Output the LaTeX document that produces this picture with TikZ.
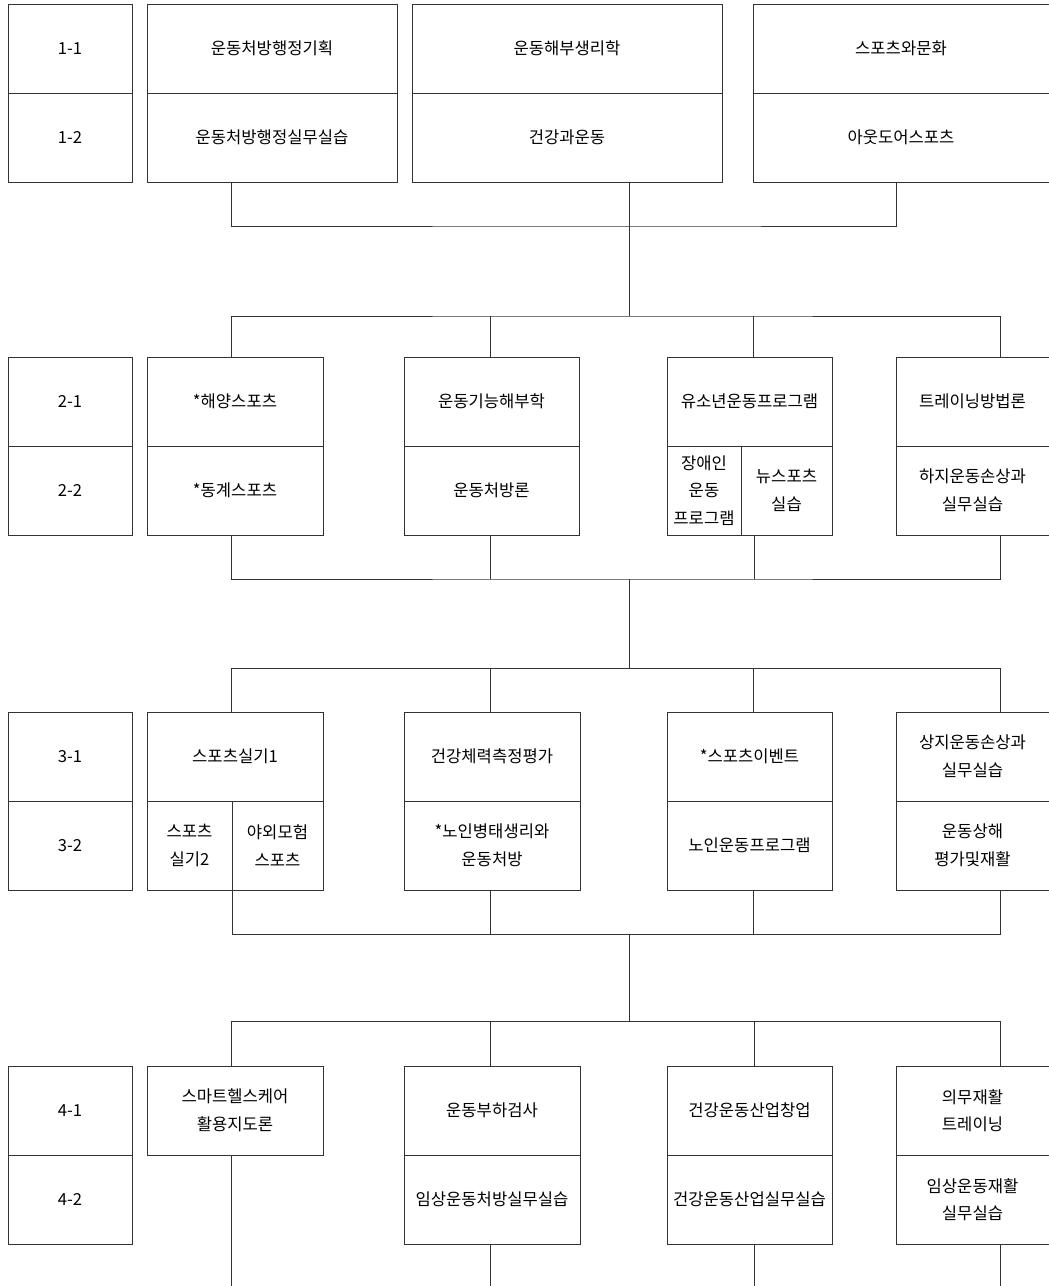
\documentclass[tikz,border=0pt]{standalone}
\usepackage{fontspec}
\newfontfamily\krfont{Noto Sans CJK KR}
\usetikzlibrary{positioning}
\definecolor{chartline}{RGB}{51, 51, 51}
\tikzset{
  course/.style 2 args={
    rectangle,
    draw=chartline,
    line width=1pt,
    inner sep=0pt,
    outer sep=0pt,
    minimum width=#1,
    minimum height=#2,
    align=center,
    font=\krfont\fontsize{16.6}{27.5}\selectfont
  },
  link/.style={
    draw=chartline,
    line width=1pt
  }
}

\begin{document}
\begin{tikzpicture}[x=1pt, y=-1pt]
  \fill[white] (0,0) rectangle (1049,1286);
  \useasboundingbox (0,0) rectangle (1049,1286);
  % year 1
  \node[course={124}{89}] (l1t) at (70,48.5) {1-1};
  \node[course={124}{89}, below=0pt of l1t] (l1b) {1-2};
  \node[course={250}{89}] (a1t) at (272,48.5) {운동처방행정기획};
  \node[course={250}{89}, below=0pt of a1t] (a1b) {운동처방행정실무실습};
  \node[course={310}{89}] (b1t) at (567,48.5) {운동해부생리학};
  \node[course={310}{89}, below=0pt of b1t] (b1b) {건강과운동};
  \node[course={296}{89}] (c1t) at (901,48.5) {스포츠와문화};
  \node[course={296}{89}, below=0pt of c1t] (c1b) {아웃도어스포츠};
  % year 2
  \node[course={124}{89}] (l2t) at (70,401.5) {2-1};
  \node[course={124}{89}, below=0pt of l2t] (l2b) {2-2};
  \node[course={176}{89}] (a2t) at (235,401.5) {*해양스포츠};
  \node[course={176}{89}, below=0pt of a2t] (a2b) {*동계스포츠};
  \node[course={175}{89}] (b2t) at (491.5,401.5) {운동기능해부학};
  \node[course={175}{89}, below=0pt of b2t] (b2b) {운동처방론};
  \node[course={165}{89}] (c2t) at (749.5,401.5) {유소년운동프로그램};
  \node[course={74}{89}, anchor=north west] (c2bl) at (c2t.south west) {장애인\\운동\\프로그램};
  \node[course={91}{89}, right=0pt of c2bl] (c2br) {뉴스포츠\\실습};
  \node[course={153}{89}] (d2t) at (972.5,401.5) {트레이닝방법론};
  \node[course={153}{89}, below=0pt of d2t] (d2b) {하지운동손상과\\실무실습};
  % year 3
  \node[course={124}{89}] (l3t) at (70,756.5) {3-1};
  \node[course={124}{89}, below=0pt of l3t] (l3b) {3-2};
  \node[course={176}{89}] (a3t) at (235,756.5) {스포츠실기1};
  \node[course={85}{89}, anchor=north west] (a3bl) at (a3t.south west) {스포츠\\실기2};
  \node[course={91}{89}, right=0pt of a3bl] (a3br) {야외모험\\스포츠};
  \node[course={176}{89}] (b3t) at (492,756.5) {건강체력측정평가};
  \node[course={176}{89}, below=0pt of b3t] (b3b) {*노인병태생리와\\운동처방};
  \node[course={165}{89}] (c3t) at (749.5,756.5) {*스포츠이벤트};
  \node[course={165}{89}, below=0pt of c3t] (c3b) {노인운동프로그램};
  \node[course={153}{89}] (d3t) at (972.5,756.5) {상지운동손상과\\실무실습};
  \node[course={153}{89}, below=0pt of d3t] (d3b) {운동상해\\평가및재활};
  % year 4
  \node[course={124}{89}] (l4t) at (70,1110.5) {4-1};
  \node[course={124}{89}, below=0pt of l4t] (l4b) {4-2};
  \node[course={176}{89}] (a4t) at (235,1110.5) {스마트헬스케어\\활용지도론};
  \node[course={176}{89}] (b4t) at (492,1110.5) {운동부하검사};
  \node[course={176}{89}, below=0pt of b4t] (b4b) {임상운동처방실무실습};
  \node[course={165}{89}] (c4t) at (749.5,1110.5) {건강운동산업창업};
  \node[course={165}{89}, below=0pt of c4t] (c4b) {건강운동산업실무실습};
  \node[course={153}{89}] (d4t) at (972.5,1110.5) {의무재활\\트레이닝};
  \node[course={153}{89}, below=0pt of d4t] (d4b) {임상운동재활\\실무실습};
  % joints
  \coordinate (m1) at (629,226);
  \coordinate (m2) at (629,316);
  \coordinate (m3) at (629,579);
  \coordinate (m4) at (629,668);
  \coordinate (m5) at (629,934);
  \coordinate (m6) at (629,1021);
  \coordinate (bottom) at (0,1286);
  % year 1 -> year 2
  \draw[link] (a1b.south -| 231,0) |- (m1) -| (c1b.south -| 896,0);
  \draw[link] (b1b.south -| m1) -- (m2);
  \draw[link] (a2t.north -| 231,0) |- (m2) -| (d2t.north -| 1000,0);
  \draw[link] (b2t.north -| 490,0) -- (m2 -| 490,0);
  \draw[link] (c2t.north -| 753,0) -- (m2 -| 753,0);
  % year 2 -> year 3
  \draw[link] (a2b.south -| 231,0) |- (m3) -| (d2b.south -| 1000,0);
  \draw[link] (b2b.south -| 490,0) -- (m3 -| 490,0);
  \draw[link] (c2br.south -| 754,0) -- (m3 -| 754,0);
  \draw[link] (m3) -- (m4);
  \draw[link] (a3t.north -| 231,0) |- (m4) -| (d3t.north -| 1000,0);
  \draw[link] (b3t.north -| 490,0) -- (m4 -| 490,0);
  \draw[link] (c3t.north -| 753,0) -- (m4 -| 753,0);
  % year 3 -> year 4
  \draw[link] (a3br.south -| 232,0) |- (m5) -| (d3b.south -| 1000,0);
  \draw[link] (b3b.south -| 490,0) -- (m5 -| 490,0);
  \draw[link] (c3b.south -| 753,0) -- (m5 -| 753,0);
  \draw[link] (m5) -- (m6);
  \draw[link] (a4t.north -| 231,0) |- (m6) -| (d4t.north -| 1000,0);
  \draw[link] (b4t.north -| 490,0) -- (m6 -| 490,0);
  \draw[link] (c4t.north -| 754,0) -- (m6 -| 754,0);
  % year 4 onward
  \draw[link] (a4t.south -| 231,0) -- (bottom -| 231,0);
  \draw[link] (b4b.south -| 490,0) -- (bottom -| 490,0);
  \draw[link] (c4b.south -| 754,0) -- (bottom -| 754,0);
  \draw[link] (d4b.south -| 1000,0) -- (bottom -| 1000,0);
\end{tikzpicture}
\end{document}
